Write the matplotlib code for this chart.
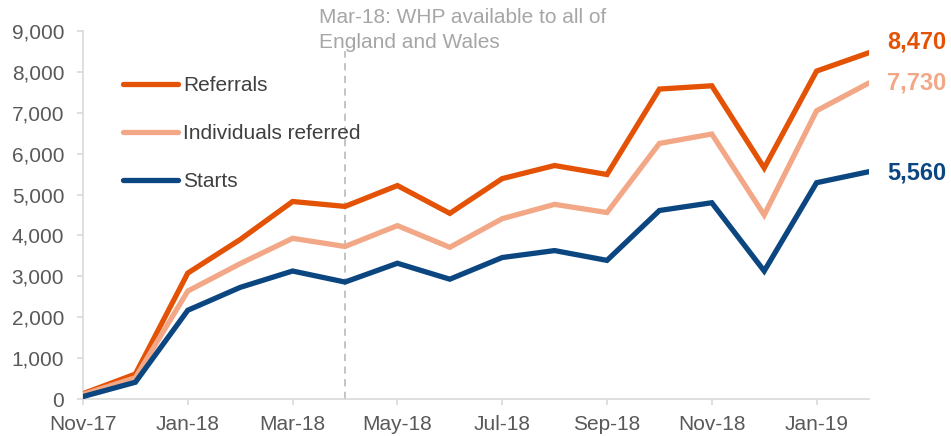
import matplotlib
matplotlib.use("Agg")
import matplotlib.pyplot as plt
import numpy as np

plt.rcParams['font.family'] = ['Liberation Sans', 'DejaVu Sans']

months = ["Nov-17", "Dec-17", "Jan-18", "Feb-18", "Mar-18", "Apr-18", "May-18", "Jun-18",
          "Jul-18", "Aug-18", "Sep-18", "Oct-18", "Nov-18", "Dec-18", "Jan-19", "Feb-19"]
referrals = [130, 610, 3080, 3900, 4830, 4710, 5220, 4540, 5390, 5710, 5490, 7580, 7660, 5650, 8020, 8470]
individuals = [110, 520, 2640, 3310, 3930, 3730, 4240, 3710, 4410, 4760, 4560, 6250, 6480, 4500, 7050, 7730]
starts = [60, 410, 2170, 2730, 3130, 2860, 3320, 2930, 3460, 3630, 3390, 4610, 4800, 3130, 5290, 5560]

series = [("Referrals", referrals, "#E35205"),
          ("Individuals referred", individuals, "#F2A886"),
          ("Starts", starts, "#0B4680")]
end_labels = ["8,470", "7,730", "5,560"]
annotation = "Mar-18: WHP available to all of\nEngland and Wales"
event_month = "Apr-18"

fig = plt.figure(figsize=(9.51, 4.36), dpi=100)
ax = fig.add_axes([83/951, 1-399/436, (869-83)/951, (399-31)/436])

x = np.arange(len(months))
handles = []
for name, vals, col in series:
    h, = ax.plot(x, vals, color=col, lw=3.8, label=name, solid_joinstyle='miter',
                 solid_capstyle='round', zorder=3)
    handles.append(h)

ax.set_xlim(0, len(months)-1)
ax.set_ylim(0, 9000)
ax.set_yticks(np.arange(0, 9001, 1000))
ax.set_yticklabels([f"{v:,}" for v in range(0, 9001, 1000)])
ax.set_xticks(x[::2])
ax.set_xticklabels(months[::2])

grey = "#D9D9D9"
for s in ["top", "right"]:
    ax.spines[s].set_visible(False)
for s in ["left", "bottom"]:
    ax.spines[s].set_color(grey)
    ax.spines[s].set_linewidth(1.2)
ax.tick_params(axis='both', colors=grey, labelcolor="#595959", labelsize=15, length=4.5, width=1.2)
ax.tick_params(axis='x', pad=7)
ax.tick_params(axis='y', pad=9)

# event line
ex = months.index(event_month)
ax.plot([ex, ex], [0, 8500], color="#BFBFBF", lw=1.3, ls=(0, (4, 3)), zorder=2, clip_on=False)
fig.text(319/951, 1-8/436, annotation, ha='left', va='top', color="#A6A6A6",
         fontsize=15, linespacing=1.38)

# end labels
offsets = [8, 0, -1]
for (name, vals, col), lab, dy in zip(series, end_labels, offsets):
    ax.annotate(lab, xy=(x[-1], vals[-1]), xytext=(13, dy), textcoords='offset points',
                ha='left', va='center', color=col, fontsize=17, fontweight='bold', annotation_clip=False)

leg = ax.legend(handles=handles, loc='upper left', bbox_to_anchor=(0.0509, 0.878), frameon=False,
                fontsize=15, handlelength=2.65, handletextpad=0.24, labelspacing=1.4,
                borderaxespad=0, borderpad=0)
for t in leg.get_texts():
    t.set_color("#404040")

fig.savefig("out.png", dpi=100)
